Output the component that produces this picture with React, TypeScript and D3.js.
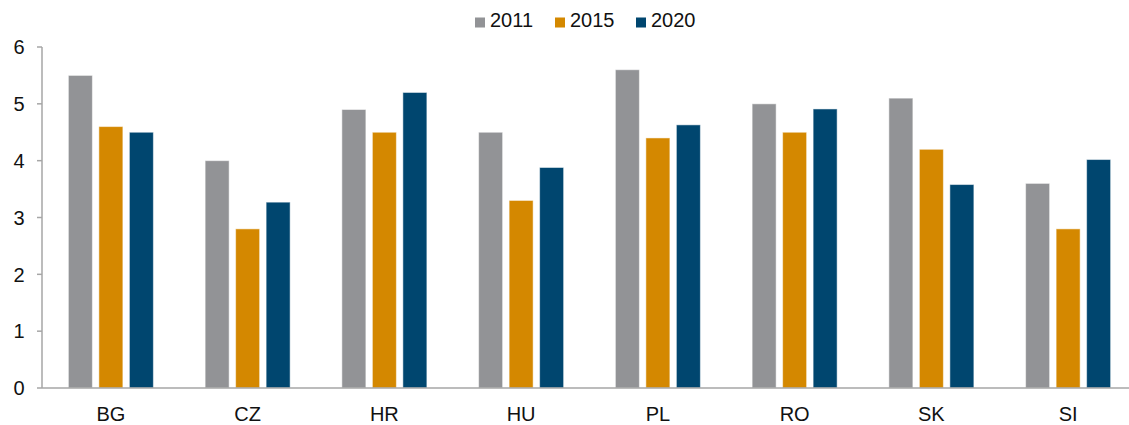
import React from "react";
import * as d3 from "d3";

const width = 1129;
const height = 425;
const margin = { top: 47, right: -7, bottom: 37, left: 42 };

const countries = ["BG", "CZ", "HR", "HU", "PL", "RO", "SK", "SI"];
const years = ["2011", "2015", "2020"];
const colors = ["#929396", "#D48800", "#00466F"];

const v2011 = [5.5, 4.0, 4.9, 4.5, 5.6, 5.0, 5.1, 3.6];
const v2015 = [4.6, 2.8, 4.5, 3.3, 4.4, 4.5, 4.2, 2.8];
const v2020 = [4.5, 3.27, 5.2, 3.88, 4.63, 4.91, 3.58, 4.02];
const yTicks = [0, 1, 2, 3, 4, 5, 6];

const series = [v2011, v2015, v2020];

export default function App() {
  const x = d3
    .scaleBand()
    .domain(countries)
    .range([margin.left, width - margin.right])
    .paddingInner(0)
    .paddingOuter(0);
  const y = d3
    .scaleLinear()
    .domain([0, 6])
    .range([height - margin.bottom, margin.top]);

  const barW = 24;
  const gap = 6.5;
  const groupW = barW * 3 + gap * 2;
  const font = "'Liberation Sans', Arial, sans-serif";

  // legend square x positions
  const legendX = [475, 555, 636];

  return (
    <svg
      width={width}
      height={height}
      style={{ position: "absolute", left: 0, top: 0, fontFamily: font }}
    >
      {/* legend */}
      {years.map((yr, i) => (
        <g key={yr}>
          <rect x={legendX[i]} y={17.5} width={10} height={10} fill={colors[i]} />
          <text x={legendX[i] + 15} y={27.3} fontSize={20} fill="#111">
            {yr}
          </text>
        </g>
      ))}

      {/* bars */}
      {countries.map((c, ci) => {
        const cx = x(c)! + x.bandwidth() / 2 + 0.5;
        return series.map((s, si) => (
          <rect
            key={c + si}
            x={cx - groupW / 2 + si * (barW + gap)}
            y={y(s[ci])}
            width={barW}
            height={y(0) - y(s[ci])}
            fill={colors[si]}
            stroke="#ffffff"
            strokeOpacity={0.5}
            strokeWidth={1}
          />
        ));
      })}

      {/* y axis */}
      <line
        x1={margin.left}
        x2={margin.left}
        y1={y(6)}
        y2={y(0)}
        stroke="#A6A6A6"
        strokeWidth={1.5}
      />
      {yTicks.map((t) => (
        <g key={t}>
          <line
            x1={margin.left - 5}
            x2={margin.left}
            y1={y(t)}
            y2={y(t)}
            stroke="#A6A6A6"
            strokeWidth={1.5}
          />
          <text
            x={24.5}
            y={y(t) + 7.3}
            textAnchor="end"
            fontSize={20}
            fill="#111"
          >
            {t}
          </text>
        </g>
      ))}

      {/* x axis */}
      <line
        x1={margin.left}
        x2={width}
        y1={y(0)}
        y2={y(0)}
        stroke="#A6A6A6"
        strokeWidth={1.5}
      />
      {countries.map((c) => (
        <text
          key={c}
          x={x(c)! + x.bandwidth() / 2 + 0.5}
          y={420.6}
          textAnchor="middle"
          fontSize={20}
          fill="#111"
        >
          {c}
        </text>
      ))}
    </svg>
  );
}
